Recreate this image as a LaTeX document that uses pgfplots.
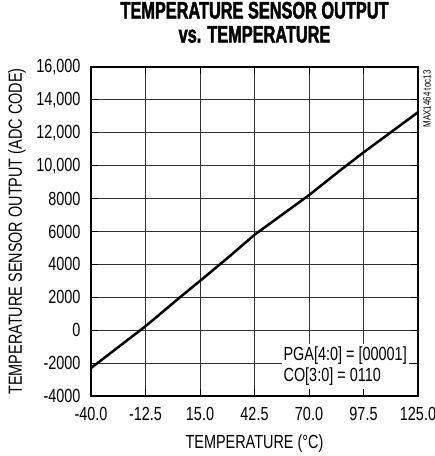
\documentclass[border=0pt]{standalone}
\usepackage{fontspec}
\setmainfont{Liberation Sans}[FakeStretch=0.76]
\newfontfamily\titlefont{Liberation Sans Bold}[FakeStretch=0.68,FakeBold=1.8]
\usepackage{pgfplots}
\pgfplotsset{compat=1.18}
\begin{document}
\begin{tikzpicture}
\useasboundingbox (-91bp,-60bp) rectangle (344bp,396bp);
\begin{axis}[
  at={(0,0)}, anchor=south west, scale only axis,
  width=327bp, height=329bp,
  xmin=-40, xmax=125, ymin=-4000, ymax=16000,
  xtick={-40,-12.5,15,42.5,70,97.5,125},
  xticklabels={-40.0,-12.5,15.0,42.5,70.0,97.5,125.0},
  ytick={-4000,-2000,0,2000,4000,6000,8000,10000,12000,14000,16000},
  yticklabels={-4000,-2000,0,2000,4000,6000,8000,{10,000},{12,000},{14,000},{16,000}},
  scaled y ticks=false,
  grid=major,
  major grid style={black!80, line width=0.8bp},
  axis line style={line width=2.5bp},
  tick style={black, line width=0.8bp},
  tick align=inside, major tick length=7bp,
  ticklabel style={font=\fontsize{19bp}{21bp}\selectfont},
  yticklabel style={xshift=-7bp},
  xticklabel style={yshift=-8bp},
  xlabel={TEMPERATURE (°C)},
  ylabel={TEMPERATURE SENSOR OUTPUT (ADC CODE)},
  label style={font=\fontsize{19bp}{21bp}\selectfont},
  xlabel style={at={(axis description cs:0.5,-0.1444)}, anchor=center},
  ylabel style={at={(axis description cs:-0.2263,0.5)}, anchor=center},
  title={TEMPERATURE SENSOR OUTPUT\\vs. TEMPERATURE},
  title style={at={(axis description cs:0.5,1)}, anchor=center, yshift=38.75bp,
    align=center, font=\titlefont\fontsize{24bp}{24bp}\selectfont},
]
\addplot[black, line width=2.5bp] coordinates {
  (-40,-2300) (-12.5,240) (5,2010) (16.6,3155) (30,4500) (42.5,5800)
  (70,8210) (86,9740) (97.5,10806) (125,13250)
};
\node[fill=white, align=left, inner xsep=2bp, inner ysep=3bp,
  font=\fontsize{19bp}{21.5bp}\selectfont, anchor=south east,
  xshift=-9bp, yshift=7bp] at (axis cs:125,-4000)
  {PGA[4:0] = [00001]\\CO[3:0] = 0110};
\end{axis}
\node[rotate=90, anchor=east, font=\fontsize{10.5bp}{12bp}\selectfont] at (336bp,329bp) {MAX1464 toc13};
\end{tikzpicture}
\end{document}
